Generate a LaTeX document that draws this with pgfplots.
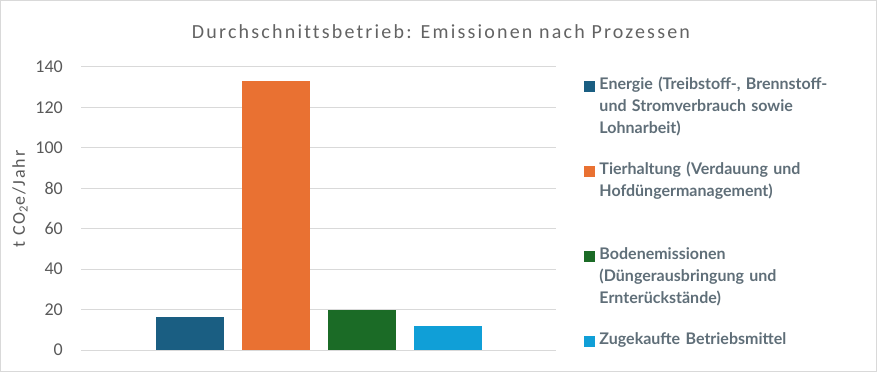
\documentclass[border=0pt]{standalone}
\usepackage{fontspec}
\setmainfont{Carlito}
\newfontfamily\lato{Lato}
\usepackage{pgfplots}
\pgfplotsset{compat=1.18}
\definecolor{cEn}{HTML}{1A5E82}
\definecolor{cTi}{HTML}{E97132}
\definecolor{cBo}{HTML}{1B6B26}
\definecolor{cZu}{HTML}{109FD7}
\definecolor{txt}{HTML}{595959}
\definecolor{ttl}{HTML}{636363}
\definecolor{leg}{HTML}{5F6E78}
\definecolor{gridc}{HTML}{D9D9D9}
\begin{document}
\begin{tikzpicture}[x=1bp,y=1bp]
\useasboundingbox (0,0) rectangle (877,372);
\draw[gridc, line width=1.5bp] (0.75,0.75) rectangle (876.25,371.25);
\node[anchor=base, inner sep=0pt, font=\fontsize{20bp}{22bp}\selectfont\addfontfeatures{LetterSpace=11,Ligatures=NoCommon}, text=ttl] at (441,334) {Durchschnittsbetrieb: Emissionen nach Prozessen};
\node[rotate=90, font=\fontsize{18bp}{20bp}\selectfont\addfontfeatures{LetterSpace=10}, text=txt] at (20,173) {t CO\textsubscript{2}e/Jahr};
\begin{axis}[
  at={(81bp,22bp)}, anchor=south west,
  scale only axis, width=475bp, height=283bp,
  xmin=-1.267, xmax=4.256, ymin=0, ymax=140,
  axis line style={draw=none},
  major tick length=0pt,
  xtick=\empty,
  ytick={0,20,...,140},
  ymajorgrids,
  grid style={gridc, line width=1bp},
  /pgf/number format/assume math mode=true,
  yticklabel style={font=\fontsize{18bp}{20bp}\selectfont, text=txt, anchor=east, inner sep=0pt, xshift=-18bp},
  legend style={at={(1.0589,0.960)}, anchor=north west, draw=none, fill=none,
    inner sep=0pt, outer sep=0pt, row sep=0pt, column sep=4.5bp,
    cells={anchor=base west},
    nodes={inner sep=0pt, text width=260bp, align=left, text height=11bp, text depth=74bp,
      font=\lato\bfseries\fontsize{16bp}{22bp}\selectfont, text=leg}},
  legend image code/.code={\fill[#1] (0bp,-2.5bp) rectangle (11bp,8bp);},
]
\addplot[ybar, bar shift=0pt, bar width=0.79, fill=cEn, draw=none] coordinates {(0,16.5)};
\addlegendentry{Energie (Treibstoff-, Brennstoff-\\und Stromverbrauch sowie\\Lohnarbeit)}
\addplot[ybar, bar shift=0pt, bar width=0.79, fill=cTi, draw=none] coordinates {(1,133)};
\addlegendentry{Tierhaltung (Verdauung und\\Hofdüngermanagement)}
\addplot[ybar, bar shift=0pt, bar width=0.79, fill=cBo, draw=none] coordinates {(2,19.9)};
\addlegendentry{Bodenemissionen\\(Düngerausbringung und\\Ernterückstände)}
\addplot[ybar, bar shift=0pt, bar width=0.79, fill=cZu, draw=none] coordinates {(3,12)};
\addlegendentry{Zugekaufte Betriebsmittel}
\end{axis}
\end{tikzpicture}
\end{document}
